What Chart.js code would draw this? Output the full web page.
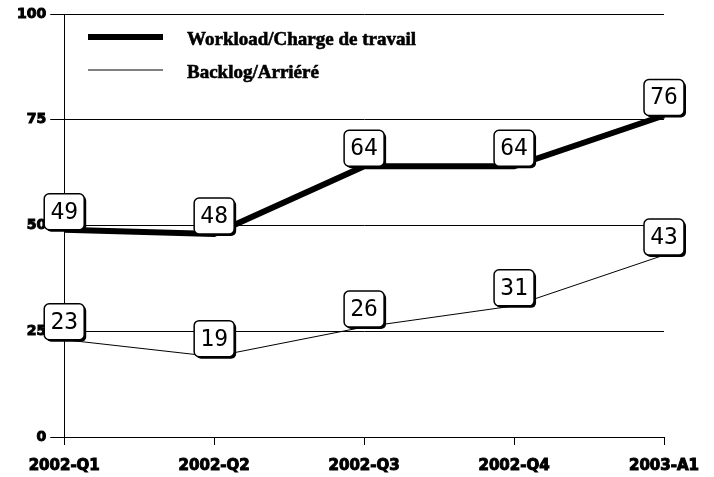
<!DOCTYPE html>
<html>
<head>
<meta charset="utf-8">
<script src="https://cdn.jsdelivr.net/npm/chart.js@4/dist/chart.umd.min.js"></script>
<style>
  html, body { margin: 0; padding: 0; background: #fff; }
  #wrap { width: 714px; height: 477px; }
</style>
</head>
<body>
<div id="wrap"><canvas id="chart" width="714" height="477"></canvas></div>
<script>
const periods = ['2002-Q1', '2002-Q2', '2002-Q3', '2002-Q4', '2003-A1'];
const workload = [49, 48, 64, 64, 76];
const backlog = [23, 19, 26, 31, 43];
const yTicks = [0, 25, 50, 75, 100];

// legend drawn by hand: thick/thin sample line, serif bold text
const legendPlugin = {
    id: 'sampleLegend',
    afterDraw: (chart) => {
        const { ctx } = chart;
        ctx.save();
        chart.data.datasets.forEach((ds, i) => {
            const y = 37 + i * 33;
            ctx.strokeStyle = '#000';
            ctx.lineWidth = ds.borderWidth;
            ctx.beginPath();
            ctx.moveTo(88, y);
            ctx.lineTo(163, y);
            ctx.stroke();
            ctx.fillStyle = '#000';
            ctx.font = 'bold 19px "Liberation Serif", "Times New Roman", serif';
            ctx.textBaseline = 'middle';
            ctx.textAlign = 'left';
            ctx.lineWidth = 0.6;
            ctx.fillText(ds.label, 187, y + 3);
            ctx.strokeText(ds.label, 187, y + 3);
        });
        ctx.restore();
    },
};

// value boxes sitting on top of each point
const valueBoxes = {
    id: 'valueBoxes',
    afterDatasetsDraw: (chart) => {
        const { ctx } = chart;
        const w = 40, h = 36, r = 5;
        ctx.save();
        chart.data.datasets.forEach((ds, di) => {
            const meta = chart.getDatasetMeta(di);
            meta.data.forEach((pt, i) => {
                const x = pt.x - w / 2;
                const y = pt.y - h;
                // shadow
                ctx.fillStyle = '#000';
                ctx.beginPath();
                ctx.roundRect(x + 2, y + 2, w, h, r);
                ctx.fill();
                ctx.fillStyle = '#fff';
                ctx.strokeStyle = '#000';
                ctx.lineWidth = 1.5;
                ctx.beginPath();
                ctx.roundRect(x, y, w, h, r);
                ctx.fill();
                ctx.stroke();
                ctx.fillStyle = '#000';
                ctx.font = '23px "DejaVu Sans Mono", monospace';
                ctx.textAlign = 'center';
                ctx.textBaseline = 'middle';
                ctx.fillText(String(ds.data[i]), pt.x, y + h / 2 + 1);
            });
        });
        ctx.restore();
    },
};

new Chart(document.getElementById('chart'), {
    type: 'line',
    data: {
        labels: periods,
        datasets: [
            {
                label: 'Workload/Charge de travail',
                data: workload,
                borderColor: '#000',
                borderWidth: 6,
                pointRadius: 0,
                tension: 0,
            },
            {
                label: 'Backlog/Arriéré',
                data: backlog,
                borderColor: '#000',
                borderWidth: 1,
                pointRadius: 0,
                tension: 0,
            },
        ],
    },
    options: {
        responsive: false,
        animation: false,
        devicePixelRatio: 1,
        layout: { padding: { left: 13, right: 50, top: 14, bottom: 0 } },
        plugins: {
            legend: { display: false },
            tooltip: { enabled: false },
        },
        scales: {
            x: {
                offset: false,
                afterFit: (axis) => { axis.height = 40; },
                grid: { drawOnChartArea: false, drawTicks: true, tickLength: 8, color: '#000' },
                border: { display: true, color: '#000', width: 1 },
                ticks: {
                    color: '#000',
                    padding: 12,
                    maxRotation: 0,
                    textStrokeColor: '#000',
                    textStrokeWidth: 1,
                    font: { family: '"DejaVu Sans", sans-serif', weight: 'bold', size: 15 },
                },
            },
            y: {
                min: 0,
                max: 100,
                afterBuildTicks: (axis) => {
                    axis.ticks = yTicks.map((v) => ({ value: v }));
                },
                grid: { color: '#000', lineWidth: 1, tickLength: 14 },
                border: { display: true, color: '#000', width: 1 },
                ticks: {
                    color: '#000',
                    padding: 4,
                    textStrokeColor: '#000',
                    textStrokeWidth: 1,
                    font: { family: '"DejaVu Sans", sans-serif', weight: 'bold', size: 14 },
                },
            },
        },
    },
    plugins: [legendPlugin, valueBoxes],
});
</script>
</body>
</html>
